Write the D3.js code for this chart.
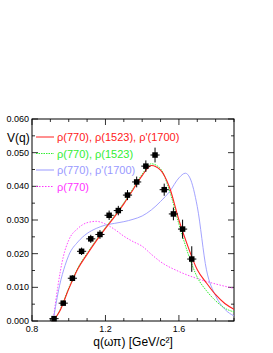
<!DOCTYPE html>
<html>
<head>
<meta charset="utf-8">
<script src="https://cdn.jsdelivr.net/npm/d3@7"></script>
<style>
  body { margin: 0; background: #fff; }
  text { font-family: "Liberation Sans", Arial, sans-serif; }
</style>
</head>
<body>
<div id="chart"></div>
<script>
// measured points
var dataX = [0.92, 0.97, 1.02, 1.07, 1.12, 1.17, 1.22, 1.27, 1.32, 1.37, 1.42, 1.47, 1.52, 1.57, 1.62, 1.67];
var dataY = [0.0007, 0.0053, 0.0127, 0.0207, 0.0244, 0.0257, 0.0314, 0.0328, 0.0374, 0.0413, 0.0460, 0.0493, 0.0390, 0.0318, 0.0273, 0.0184];
var dataErr = [0.0004, 0.0006, 0.0009, 0.0011, 0.0012, 0.0013, 0.0014, 0.0014, 0.0015, 0.0016, 0.0017, 0.0022, 0.0018, 0.0019, 0.0028, 0.0038];
var binHalf = 0.025;

// fit curves
var fitX = [0.915, 0.95, 1.0, 1.05, 1.1, 1.15, 1.2, 1.25, 1.3, 1.35, 1.4, 1.45, 1.5, 1.55, 1.6, 1.65, 1.7, 1.75, 1.8, 1.85, 1.9];
var redY = [0, 0.0028, 0.0095, 0.0155, 0.0198, 0.0238, 0.0275, 0.031, 0.0348, 0.039, 0.0432, 0.0462, 0.0448, 0.0395, 0.0300, 0.0220, 0.0152, 0.0113, 0.0078, 0.0052, 0.0035];
var greenY = [0, 0.0030, 0.0098, 0.0158, 0.0201, 0.0241, 0.0278, 0.0313, 0.0351, 0.0393, 0.0436, 0.0467, 0.0452, 0.0385, 0.0288, 0.0200, 0.0130, 0.0090, 0.0060, 0.0038, 0.0027];

var blueX = [0.915, 0.95, 0.98, 1.0, 1.05, 1.1, 1.15, 1.2, 1.25, 1.3, 1.35, 1.4, 1.45, 1.5, 1.55, 1.6, 1.635, 1.66, 1.7, 1.75, 1.8, 1.85, 1.9];
var blueY = [0, 0.0105, 0.0165, 0.0195, 0.0235, 0.026, 0.0275, 0.0285, 0.029, 0.0295, 0.0302, 0.0312, 0.0330, 0.0355, 0.0385, 0.0425, 0.0439, 0.0425, 0.0340, 0.0152, 0.0075, 0.0035, 0.0015];

var magX = [0.915, 0.94, 0.97, 1.0, 1.05, 1.1, 1.15, 1.2, 1.25, 1.3, 1.35, 1.4, 1.45, 1.5, 1.6, 1.7, 1.8, 1.9];
var magY = [0, 0.0100, 0.0190, 0.0240, 0.0275, 0.0292, 0.0296, 0.0288, 0.0272, 0.0252, 0.0236, 0.0222, 0.0198, 0.0176, 0.0147, 0.0126, 0.0110, 0.0097];

var legendLabels = ["\u03C1(770), \u03C1(1523), \u03C1'(1700)", "\u03C1(770), \u03C1(1523)", "\u03C1(770), \u03C1'(1700)", "\u03C1(770)"];
var xTicks = [0.8, 1.2, 1.6];
var yTicks = [0, 0.01, 0.02, 0.03, 0.04, 0.05, 0.06];

var W = 273, H = 353;
var margin = {top: 119, right: 39, bottom: 32, left: 32};
var width = W - margin.left - margin.right;
var height = H - margin.top - margin.bottom;

var svg = d3.select("#chart").append("svg")
    .attr("width", W)
    .attr("height", H);

var g = svg.append("g")
    .attr("transform", "translate(" + margin.left + "," + margin.top + ")");

var x = d3.scaleLinear().domain([0.8, 1.9]).range([0, width]);
var y = d3.scaleLinear().domain([0, 0.06]).range([height, 0]);

// frame
g.append("rect")
    .attr("width", width).attr("height", height)
    .attr("fill", "none").attr("stroke", "#000").attr("stroke-width", 1);

// ticks inside the frame (ROOT style)
var xMinor = d3.range(0.8, 1.9001, 0.1);
var yMinor = d3.range(0, 0.06001, 0.005);
function drawTicks() {
  var t = g.append("g").attr("stroke", "#000").attr("stroke-width", 0.8);
  xMinor.forEach(function(v) {
    var major = xTicks.some(function(m) { return Math.abs(m - v) < 1e-6; });
    var len = major ? 6 : 3;
    t.append("line").attr("x1", x(v)).attr("x2", x(v)).attr("y1", height).attr("y2", height - len);
    t.append("line").attr("x1", x(v)).attr("x2", x(v)).attr("y1", 0).attr("y2", len);
  });
  yMinor.forEach(function(v, i) {
    var len = (i % 2 === 0) ? 6 : 3;
    t.append("line").attr("y1", y(v)).attr("y2", y(v)).attr("x1", 0).attr("x2", len);
    t.append("line").attr("y1", y(v)).attr("y2", y(v)).attr("x1", width).attr("x2", width - len);
  });
}
drawTicks();

// tick labels
g.selectAll(".ylab").data(yTicks).enter().append("text")
    .attr("x", -3).attr("y", function(d) { return y(d) + 3; })
    .attr("text-anchor", "end").style("font-size", "9px")
    .text(function(d) { return d3.format(".3f")(d); });

g.selectAll(".xlab").data(xTicks).enter().append("text")
    .attr("x", function(d) { return x(d); }).attr("y", height + 10.5)
    .attr("text-anchor", "middle").style("font-size", "9px")
    .text(function(d) { return d3.format(".1f")(d); });

// axis titles
svg.append("text").attr("x", 7).attr("y", 142)
    .style("font-size", "12px").text("V(q)");
svg.append("text").attr("x", margin.left + width / 2).attr("y", 346)
    .attr("text-anchor", "middle").style("font-size", "12px")
    .text("q(\u03C9\u03C0) [GeV/c\u00B2]");

// curves
var line = d3.line()
    .x(function(d) { return x(d[0]); })
    .y(function(d) { return y(d[1]); })
    .curve(d3.curveMonotoneX);

var plot = g.append("g");
var curves = [
  {xs: magX, ys: magY, color: "#ff33ff", dash: "1.5,1.5", w: 0.9},
  {xs: blueX, ys: blueY, color: "#9999ff", dash: null, w: 0.9},
  {xs: fitX, ys: greenY, color: "#33ee33", dash: "1.5,1", w: 1},
  {xs: fitX, ys: redY, color: "#ff2020", dash: null, w: 1.1}
];
curves.forEach(function(c) {
  plot.append("path")
      .datum(c.xs.map(function(v, i) { return [v, c.ys[i]]; }))
      .attr("d", line)
      .attr("fill", "none")
      .attr("stroke", c.color)
      .attr("stroke-width", c.w)
      .attr("stroke-dasharray", c.dash);
});

// data points with error bars
var pts = dataX.map(function(v, i) { return {x: v, y: dataY[i], e: dataErr[i]}; });
var pg = g.append("g").selectAll("g").data(pts).enter().append("g");
pg.append("line")
    .attr("x1", function(d) { return x(d.x - binHalf); })
    .attr("x2", function(d) { return x(d.x + binHalf); })
    .attr("y1", function(d) { return y(d.y); })
    .attr("y2", function(d) { return y(d.y); })
    .attr("stroke", "#000").attr("stroke-width", 1);
pg.append("line")
    .attr("x1", function(d) { return x(d.x); })
    .attr("x2", function(d) { return x(d.x); })
    .attr("y1", function(d) { return y(d.y - d.e); })
    .attr("y2", function(d) { return y(d.y + d.e); })
    .attr("stroke", "#000").attr("stroke-width", 1);
pg.append("rect")
    .attr("x", function(d) { return x(d.x) - 2.75; })
    .attr("y", function(d) { return y(d.y) - 2.75; })
    .attr("width", 5.5).attr("height", 5.5)
    .attr("fill", "#000");

// legend
var legColors = ["#ff2020", "#33ee33", "#9999ff", "#ff33ff"];
var legDash = [null, "1.5,1", null, "1.5,1.5"];
var legY = [137, 153.5, 170, 186.5];
var leg = svg.selectAll(".leg").data(legendLabels).enter().append("g")
    .attr("transform", function(d, i) { return "translate(36," + legY[i] + ")"; });
leg.append("line")
    .attr("x1", 0).attr("x2", 18).attr("y1", 0).attr("y2", 0)
    .attr("stroke", function(d, i) { return legColors[i]; })
    .attr("stroke-width", 1)
    .attr("stroke-dasharray", function(d, i) { return legDash[i]; });
leg.append("text")
    .attr("x", 21).attr("y", 4)
    .style("font-size", "11px")
    .style("fill", function(d, i) { return legColors[i]; })
    .text(function(d) { return d; });
</script>
</body>
</html>
